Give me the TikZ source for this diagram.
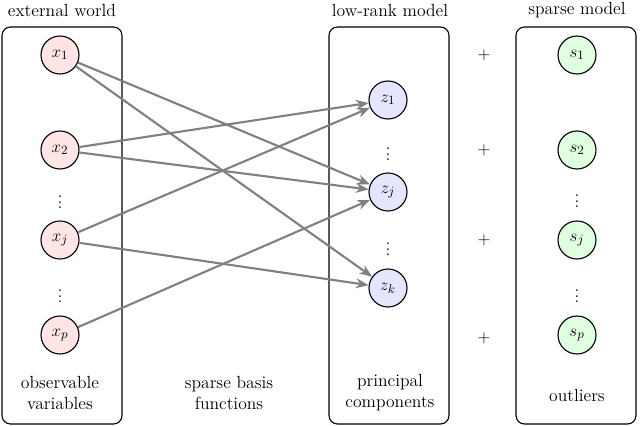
\documentclass[tikz,border=0pt]{standalone}
\usetikzlibrary{arrows.meta}
\begin{document}
\begin{tikzpicture}[x=0.025cm,y=-0.025cm,font=\fontsize{12.5}{15}\selectfont,
 box/.style={draw,thick,rounded corners=6pt},
 cn/.style={circle,draw,thick,minimum size=0.95cm,inner sep=0pt},
 xn/.style={cn,fill=red!10},
 zn/.style={cn,fill=blue!10},
 sn/.style={cn,fill=green!12},
 dt/.style={inner sep=0pt},
 ar/.style={draw=gray,line width=1.5pt,-{Stealth[length=9pt,width=7pt]}}]
\useasboundingbox (0,0) rectangle (640,426);
\draw[box] (2,27) rectangle (122,424);
\draw[box] (329,27) rectangle (449,424);
\draw[box] (516,27) rectangle (636,424);
\node (t1) at (62,10) {external world};
\node (t2) at (390,10) {low-rank model};
\node (t3) at (577,10) {sparse model};
\node[xn] (x1) at (60,55) {$x_1$};
\node[xn] (x2) at (60,150) {$x_2$};
\node[xn] (xj) at (60,240) {$x_j$};
\node[xn] (xp) at (60,335) {$x_p$};
\node[dt] (d1) at (60,198) {$\vdots$};
\node[dt] (d2) at (60,292) {$\vdots$};
\node[zn] (z1) at (388,100) {$z_1$};
\node[zn] (zj) at (388,192) {$z_j$};
\node[zn] (zk) at (388,288) {$z_k$};
\node[dt] (d3) at (388,150) {$\vdots$};
\node[dt] (d4) at (388,245) {$\vdots$};
\node[sn] (s1) at (577,55) {$s_1$};
\node[sn] (s2) at (577,150) {$s_2$};
\node[sn] (sj) at (577,240) {$s_j$};
\node[sn] (sp) at (577,335) {$s_p$};
\node[dt] (d5) at (577,197) {$\vdots$};
\node[dt] (d6) at (577,292) {$\vdots$};
\node (p1) at (484,55) {$+$};
\node (p2) at (484,150) {$+$};
\node (p3) at (484,240) {$+$};
\node (p4) at (484,338) {$+$};
\node[align=center] (b1) at (60,393) {observable\\variables};
\node[align=center] (b2) at (229,393) {sparse basis\\functions};
\node[align=center] (b3) at (390,393) {principal\\components};
\node (b4) at (577,395) {outliers};
\draw[ar] (x1) -- (zj);
\draw[ar] (x1) -- (zk);
\draw[ar] (x2) -- (z1);
\draw[ar] (x2) -- (zj);
\draw[ar] (xj) -- (z1);
\draw[ar] (xj) -- (zk);
\draw[ar] (xp) -- (zj);
\end{tikzpicture}
\end{document}
